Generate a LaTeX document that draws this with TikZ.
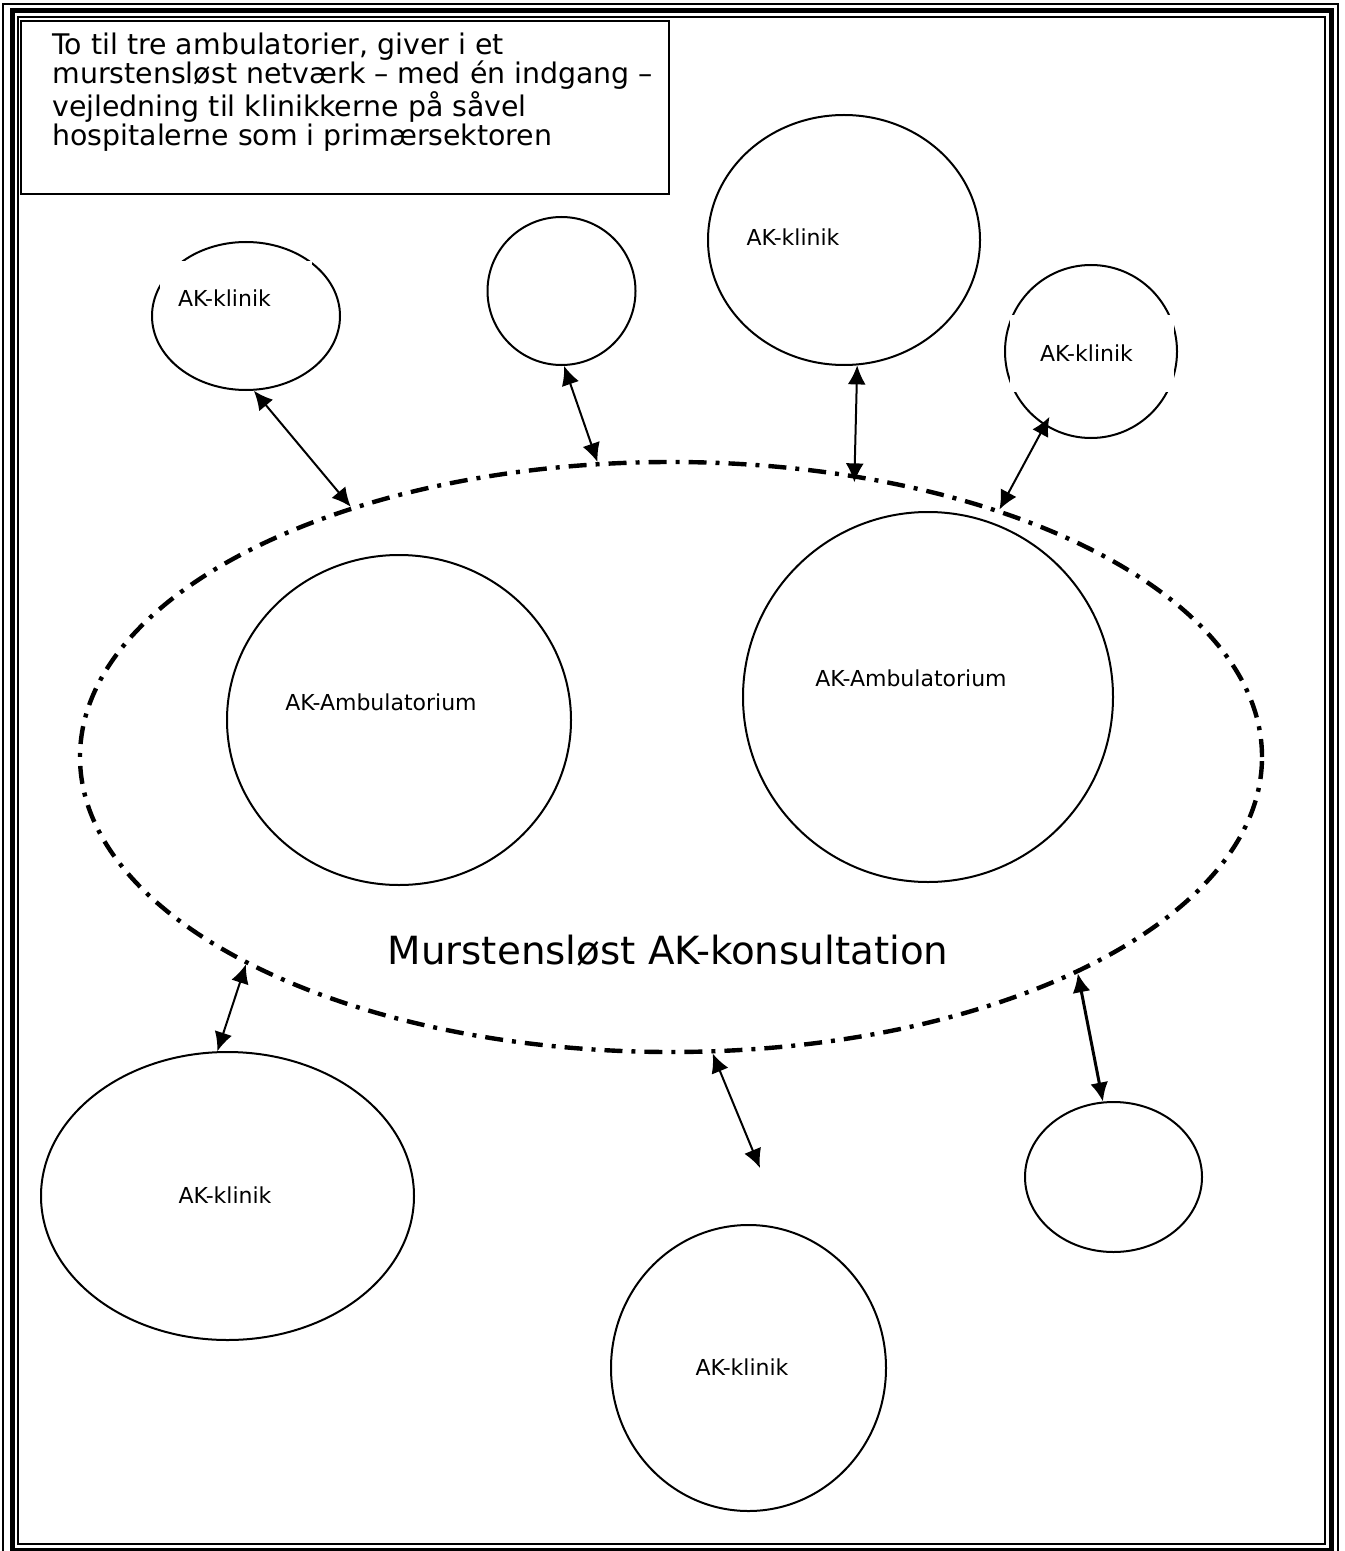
\documentclass[tikz,border=0pt]{standalone}
\usepackage{fontspec}
\setmainfont{DejaVu Sans}
\usetikzlibrary{shapes.geometric,arrows.meta}
\begin{document}
\begin{tikzpicture}[
  x=0.5pt, y=-0.5pt,
  every node/.style={font=\fontsize{11pt}{13pt}\selectfont},
  ring/.style 2 args={ellipse, draw, line width=1pt, inner sep=0pt, minimum width=#1pt, minimum height=#2pt},
  netring/.style={ellipse, draw, line width=2.2pt, dash pattern=on 9pt off 4.5pt on 2pt off 4.5pt, inner sep=0pt, minimum width=591pt, minimum height=295pt},
  gapbox/.style={fill=white, align=left, inner ysep=0pt},
  link/.style={arrows={Latex[length=9.5pt, width=9pt]-Latex[length=9.5pt, width=9pt]}, line width=1pt},
  thinframe/.style={line width=0.8pt},
  thickframe/.style={line width=2.5pt}
]
\useasboundingbox (0,0) rectangle (1344,1551);
\clip (0,0) rectangle (1344,1551);
\draw[thinframe] (3,4) rectangle (1338,1557);
\draw[thickframe] (12,11) rectangle (1331,1550);
\draw[thinframe] (18,17) rectangle (1325,1544);

\node[draw, line width=1pt, anchor=north west, inner sep=0pt, minimum width=324pt, minimum height=86.5pt] (intro) at (20,20) {};
\node[anchor=north west, align=left, inner sep=0pt, font=\fontsize{14.2pt}{14.5pt}\selectfont] (introtxt) at (52,33)
  {To til tre ambulatorier, giver i et\\ murstensløst netværk – med én indgang –\\ vejledning til klinikkerne på såvel\\ hospitalerne som i primærsektoren};

\node[netring] (net) at (671,757) {};
\node[ring={94}{74}] (kTL) at (246,316) {};
\node[ring={74}{74}] (cTop) at (561.5,291) {};
\node[ring={136}{125}] (kTop) at (844,240) {};
\node[ring={86}{86.5}] (kTR) at (1091,351.5) {};
\node[ring={172}{165}] (ambL) at (399,720) {};
\node[ring={185}{185}] (ambR) at (928,697) {};
\node[ring={186.5}{144}] (kBL) at (227.5,1196) {};
\node[ring={137.5}{143}] (kBC) at (748.5,1368) {};
\node[ring={88.5}{75}] (cBR) at (1113.5,1177) {};

\node[gapbox, text width=58pt, inner xsep=9pt, minimum height=37pt] (kTLtxt) at (236,298) {AK-klinik};
\node[gapbox, text width=52pt, inner xsep=15pt, minimum height=38.5pt] (kTRtxt) at (1092,353.5) {AK-klinik};
\node (kToptxt) at (793,237) {AK-klinik};
\node (ambLtxt) at (381,702) {AK-Ambulatorium};
\node (ambRtxt) at (911,678) {AK-Ambulatorium};
\node (kBLtxt) at (225,1195) {AK-klinik};
\node (kBCtxt) at (742,1367) {AK-klinik};
\node[font=\fontsize{19.4pt}{23pt}\selectfont] (nettxt) at (668,951) {Murstensløst AK-konsultation};

\coordinate (kBCend) at (760,1168);
\draw[link] (kTL.-84.6) -- (net.142.6);
\draw[link] (cTop.-88.9) -- (net.104.5);
\draw[link, shorten >=-4pt] (kTop.-84.1) -- (net.57.2);
\draw[link, shorten <=-5pt] (kTR.-122) -- (net.37.5);
\draw[link] (net.-154.6) -- (kBL.94);
\draw[link] (net.-82.9) -- (kBCend);
\draw[link, line width=1.5pt] (net.-28) -- (cBR.98);
\end{tikzpicture}
\end{document}
